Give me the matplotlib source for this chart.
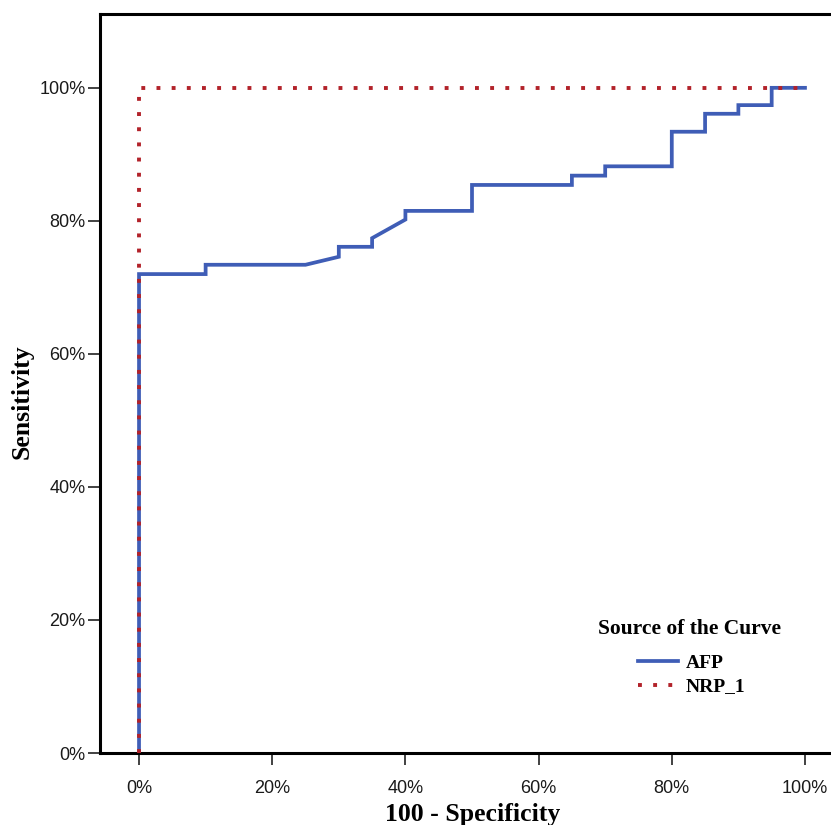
import matplotlib
matplotlib.use("Agg")
import matplotlib.pyplot as plt
from matplotlib.ticker import FuncFormatter

# Data (percent)
afp_x = [0, 0, 10, 10, 25, 30, 30, 35, 35, 40, 40, 50, 50, 65, 65, 70, 70, 80, 80, 85, 85, 90, 90, 95, 95, 100]
afp_y = [0, 72.0, 72.0, 73.4, 73.4, 74.6, 76.1, 76.1, 77.4, 80.2, 81.5, 81.5, 85.4, 85.4, 86.8, 86.8, 88.2, 88.2, 93.4, 93.4, 96.1, 96.1, 97.4, 97.4, 100, 100]
nrp_x = [0, 0, 100]
nrp_y = [0, 100, 100]
ticks = [0, 20, 40, 60, 80, 100]

fig = plt.figure(figsize=(8.31, 8.25), dpi=100)
ax = fig.add_axes([100/831, 1-753/825, (844-100)/831, (753-14)/825])

afp_color = "#3F5DB6"
nrp_color = "#B2222A"
ax.plot(afp_x, afp_y, color=afp_color, lw=2.7, solid_joinstyle="miter", label="AFP", zorder=2)
ax.plot(nrp_x, nrp_y, color=nrp_color, lw=2.8, linestyle=(0, (1, 2.9)), dash_capstyle="butt",
        label="NRP_1", zorder=3)

ax.set_xlim(-5.86, 105.86)
ax.set_ylim(0, 111.1)
ax.set_xticks(ticks)
ax.set_yticks(ticks)
fmt = FuncFormatter(lambda v, p: f"{int(v)}%")
ax.xaxis.set_major_formatter(fmt)
ax.yaxis.set_major_formatter(fmt)

for lab in ax.get_xticklabels() + ax.get_yticklabels():
    lab.set_fontfamily("Liberation Sans")
    lab.set_fontsize(13)
    lab.set_color("#1a1a1a")
ax.tick_params(direction="out", length=8.5, width=1.3, color="#333333")
ax.tick_params(axis="x", pad=11)
ax.tick_params(axis="y", pad=2)

for s in ax.spines.values():
    s.set_linewidth(2.2)
    s.set_color("black")

fig.text(473/831, 1-821/825, "100 - Specificity", family="Liberation Serif", weight="bold",
         size=18.5, ha="center", va="baseline")
fig.text(22/831, 1-402/825, "Sensitivity", family="Liberation Serif", weight="bold",
         size=18.5, ha="center", va="center", rotation=90)

fig.text(598/831, 1-629/825, "Source of the Curve", family="Liberation Serif", weight="bold",
         size=15.5, ha="left", va="center")
leg = ax.legend(loc="center left", bbox_to_anchor=(638/831, 1-675/825), bbox_transform=fig.transFigure,
                frameon=False, handlelength=2.06, handletextpad=0.41, labelspacing=0.3,
                prop=dict(family="Liberation Serif", weight="bold", size=14), borderaxespad=0, borderpad=0)

fig.savefig("out.png", dpi=100)
